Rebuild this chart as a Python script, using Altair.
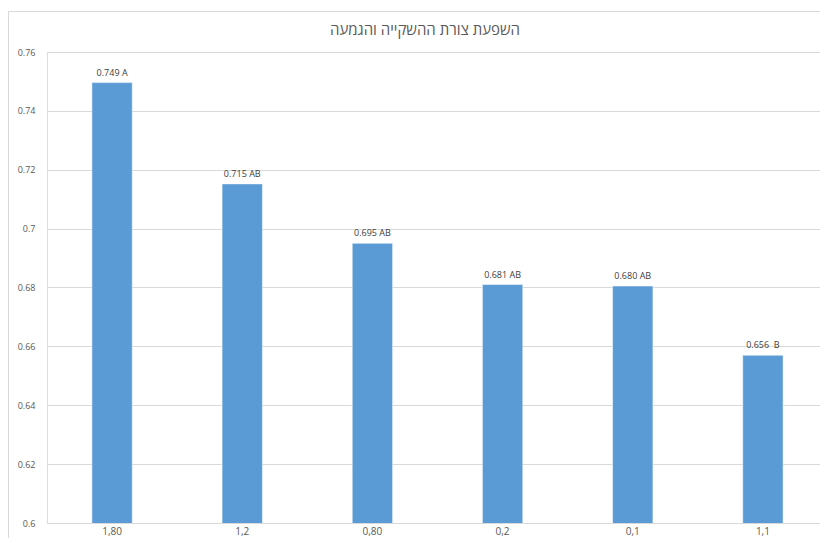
import altair as alt
import pandas as pd

categories = ["1,80", "1,2", "0,80", "0,2", "0,1", "1,1"]
values = [0.7496, 0.7152, 0.695, 0.681, 0.6805, 0.657]
labels = ["0.749 A", "0.715 AB", "0.695 AB", "0.681 AB", "0.680 AB", "0.656\u00a0\u00a0B"]
y_ticks = [0.6, 0.62, 0.64, 0.66, 0.68, 0.7, 0.72, 0.74, 0.76]
title_text = "השפעת צורת ההשקייה והגמעה"

df = pd.DataFrame({"cat": categories, "val": values, "lab": labels})

FONT = "'Open Sans', 'Liberation Sans', 'DejaVu Sans', sans-serif"
GRAY = "#595959"

x_scale = alt.Scale(domain=categories, range=[0, 781], paddingInner=0.69, paddingOuter=0.345)

x_enc = alt.X("cat:N", sort=categories, title=None, scale=x_scale,
              axis=alt.Axis(labelAngle=0, ticks=False, tickSize=0, labelPadding=3,
                            domainColor="#d9d9d9", labelColor=GRAY, labelFont=FONT,
                            labelFontSize=10, grid=False))
y_enc = alt.Y("val:Q", title=None,
              scale=alt.Scale(domain=[0.6, 0.76], nice=False, zero=False),
              axis=alt.Axis(values=y_ticks, format=".2~f", ticks=False, tickSize=0,
                            domain=False, labelPadding=12, gridColor="#d9d9d9",
                            labelColor=GRAY, labelFont=FONT, labelFontSize=9))

bars = alt.Chart(df).mark_bar(color="#5B9BD5", stroke="#ffffff", strokeWidth=0.5,
                              clip=True).encode(x=x_enc, y=y_enc)

text = alt.Chart(df).mark_text(dy=-10, fontSize=9, font=FONT, color="#404040").encode(
    x=alt.X("cat:N", sort=categories, scale=x_scale),
    y=alt.Y("val:Q"),
    text="lab:N")

title_df = pd.DataFrame({"t": [title_text]})
title = alt.Chart(title_df).mark_text(fontSize=15, font=FONT, color=GRAY,
                                      baseline="middle", align="center").encode(
    x=alt.value(378), y=alt.value(-22), text="t:N")

frame_left = alt.Chart(df).mark_rule(color="#d9d9d9", strokeWidth=1).encode(
    x=alt.value(-38.5), y=alt.value(-41), y2=alt.value(500))
frame_top = alt.Chart(df).mark_rule(color="#d9d9d9", strokeWidth=1).encode(
    x=alt.value(-38.5), x2=alt.value(790), y=alt.value(-40.5))

chart = alt.layer(frame_left, frame_top, bars, text, title).properties(
    width=773, height=471,
    autosize=alt.AutoSizeParams(type="none"),
    padding={"left": 39, "top": 44, "right": 0, "bottom": 15},
).configure_view(stroke=None).configure(background="white")

chart.save("out.html", embed_options={"renderer": "svg", "actions": False})
